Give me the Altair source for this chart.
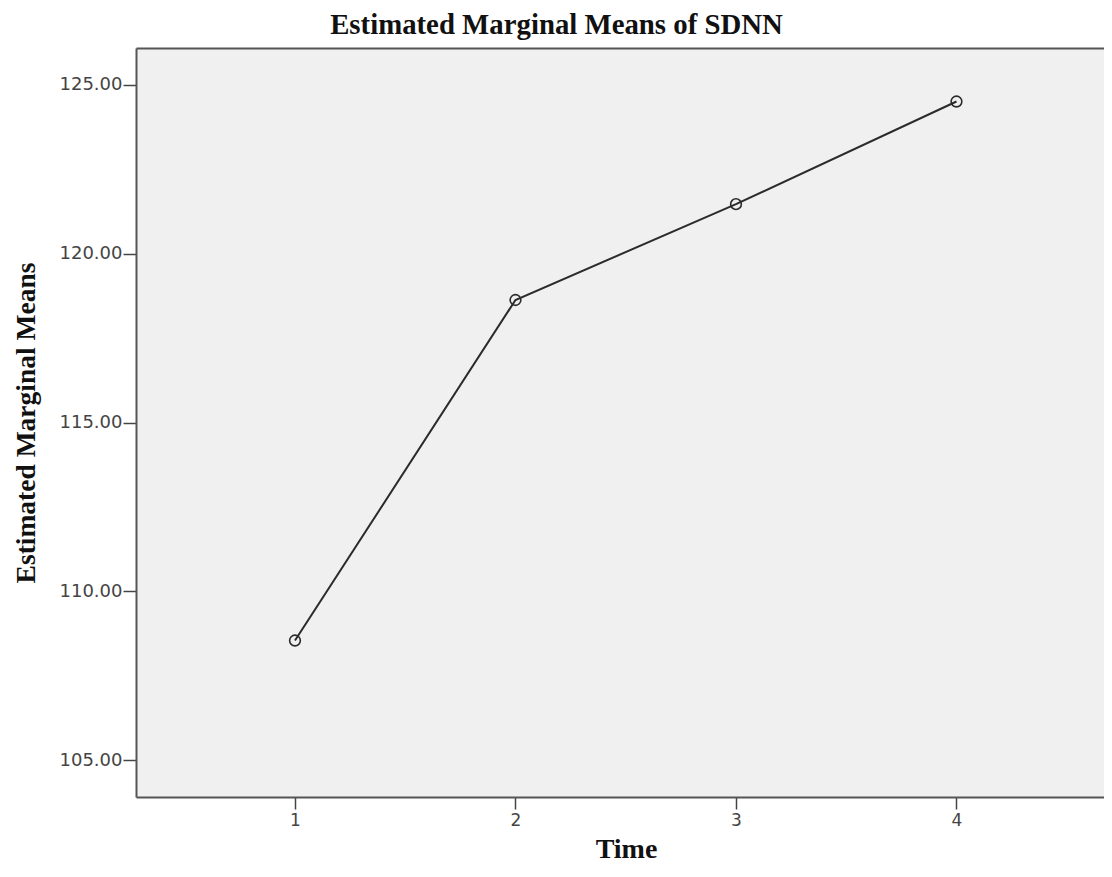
import altair as alt
import pandas as pd

times = [1, 2, 3, 4]
means = [108.54, 118.63, 121.47, 124.51]
y_ticks = [105, 110, 115, 120, 125]
x_ticks = [1, 2, 3, 4]

df = pd.DataFrame({"Time": times, "Mean": means})

x_scale = alt.Scale(domain=[0.279, 4.669], nice=False, zero=False)
y_scale = alt.Scale(domain=[103.904, 126.096], nice=False, zero=False)

frame = dict(domain=True, domainColor="#555", domainWidth=2)

x_enc = alt.X("Time:Q", scale=x_scale,
              axis=alt.Axis(values=x_ticks, format="d", title="Time", grid=False,
                            tickSize=12, tickWidth=1.5, tickColor="#444",
                            labelPadding=3, labelFont="DejaVu Sans", labelFontSize=17,
                            labelColor="#444", titleFont="Liberation Serif", titleFontSize=28,
                            titleFontWeight="bold", titleColor="#111", titleX=490, titleY=60,
                            titleBaseline="alphabetic", **frame))
x_top = alt.X("Time:Q", scale=x_scale,
              axis=alt.Axis(orient="top", labels=False, ticks=False, title="", grid=False,
                            minExtent=0, maxExtent=0, titlePadding=0, **frame))
y_enc = alt.Y("Mean:Q", scale=y_scale,
              axis=alt.Axis(values=y_ticks, format=".2f", title="Estimated Marginal Means",
                            grid=False, tickSize=13, tickWidth=1.5,
                            tickColor="#444", labelPadding=1, labelFont="DejaVu Sans",
                            labelFontSize=18, labelColor="#444", titleFont="Liberation Serif",
                            titleFontSize=27.5, titleFontWeight="bold", titleColor="#111",
                            titleX=-102, titleY=374.5, titleAngle=270,
                            titleBaseline="alphabetic", **frame))

line = alt.Chart(df).mark_line(color="#2b2b2b", strokeWidth=2).encode(x=x_enc, y=y_enc)
pts = alt.Chart(df).mark_point(shape="circle", size=115, filled=False, color="#2b2b2b",
                               strokeWidth=1.6, opacity=1).encode(x=x_top, y=y_enc)

chart = (line + pts).resolve_axis(x="independent").properties(
    width=968, height=749,
    title=alt.TitleParams("Estimated Marginal Means of SDNN", font="Liberation Serif",
                          fontSize=28.8, fontWeight="bold", color="#111", anchor="middle",
                          frame="group", dx=-63.5, dy=30, offset=9, baseline="bottom"),
    autosize=alt.AutoSizeParams(type="none"),
    padding={"left": 128, "top": 40, "right": 0, "bottom": 66},
).configure_view(fill="#f0f0f0", stroke="transparent")

chart.save("out.html", embed_options={"renderer": "svg", "actions": False})
